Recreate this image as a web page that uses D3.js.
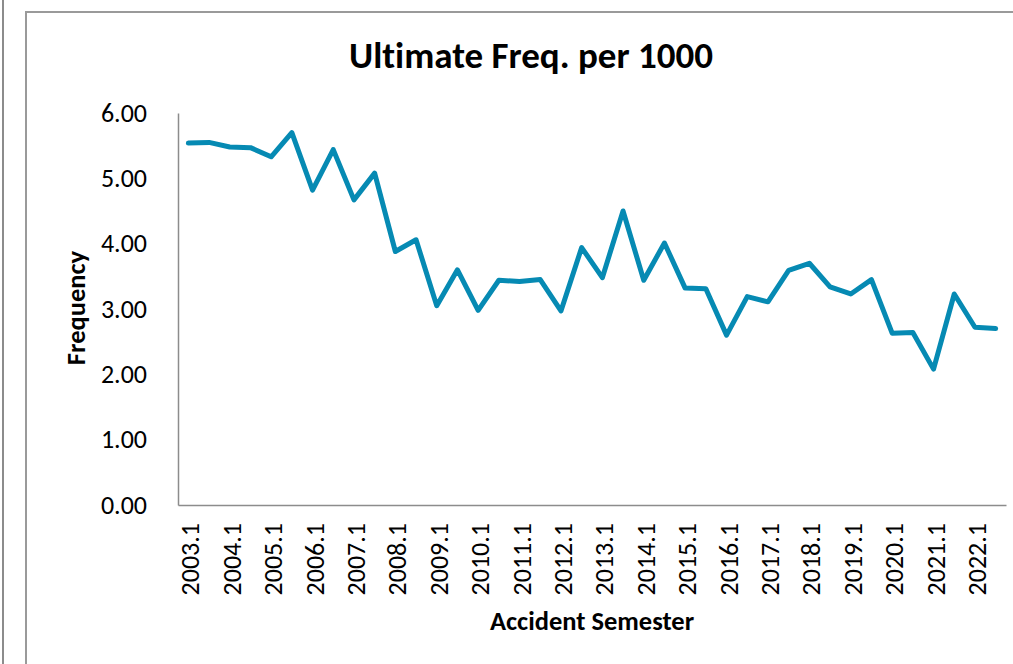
<!DOCTYPE html>
<html>
<head>
<meta charset="utf-8">
<script src="https://cdn.jsdelivr.net/npm/d3@7"></script>
<style>
  html, body { margin: 0; padding: 0; background: #ffffff; }
  svg { display: block; }
  text { font-family: Carlito, Calibri, "Open Sans", "Noto Sans", sans-serif; fill: #000; font-variant-ligatures: none; font-feature-settings: "liga" 0; }
</style>
</head>
<body>
<svg id="chart" width="1013" height="664"></svg>
<script>
// Accident semesters (two per year) and ultimate claim frequency per 1000
const years = d3.range(2003, 2023);
const semesters = years.flatMap(y => [y + ".1", y + ".2"]);
const frequency = [
  5.54, 5.55, 5.48, 5.47, 5.33, 5.70, 4.82, 5.44, 4.67, 5.08,
  3.88, 4.06, 3.05, 3.60, 2.98, 3.44, 3.42, 3.45, 2.97, 3.94,
  3.48, 4.50, 3.44, 4.01, 3.32, 3.31, 2.60, 3.19, 3.11, 3.59,
  3.70, 3.34, 3.23, 3.45, 2.63, 2.64, 2.08, 3.23, 2.72, 2.70
];
const yTicks = [0, 1, 2, 3, 4, 5, 6];

const svg = d3.select("#chart");

// outer chart frames
svg.append("line").attr("x1", 3).attr("x2", 3).attr("y1", 0).attr("y2", 664)
  .attr("stroke", "#8c8c8c").attr("stroke-width", 2);
svg.append("rect").attr("x", 26).attr("y", 12).attr("width", 1100).attr("height", 700)
  .attr("fill", "none").attr("stroke", "#9a9a9a").attr("stroke-width", 2);

const plot = { left: 178, right: 1006, top: 113, bottom: 505 };

const x = d3.scaleBand().domain(semesters).range([plot.left, plot.right]).paddingInner(0).paddingOuter(0);
const y = d3.scaleLinear().domain([0, 6]).range([plot.bottom, plot.top]);

// y axis
const yAxis = svg.append("g").attr("transform", `translate(${plot.left},0)`)
  .call(d3.axisLeft(y).tickValues(yTicks).tickFormat(d3.format(".2f")).tickSize(0).tickPadding(31));
yAxis.select(".domain").attr("stroke", "#8c8c8c").attr("stroke-width", 1.5);
yAxis.selectAll("text").style("font-size", "26px").attr("fill", "#000");

// x axis: a label for every first semester
const xAxis = svg.append("g").attr("transform", `translate(0,${plot.bottom})`)
  .call(d3.axisBottom(x).tickValues(semesters.filter(s => s.endsWith(".1"))).tickSize(0));
xAxis.select(".domain").attr("stroke", "#8c8c8c").attr("stroke-width", 1.5);
xAxis.selectAll("text")
  .style("font-size", "26px").attr("fill", "#000")
  .attr("transform", "rotate(-90)")
  .attr("text-anchor", "end")
  .attr("x", -18).attr("y", 2).attr("dy", "0.35em");

// frequency line
const line = d3.line()
  .x((d, i) => x(semesters[i]) + x.bandwidth() / 2)
  .y(d => y(d));
svg.append("path").datum(frequency)
  .attr("d", line)
  .attr("fill", "none")
  .attr("stroke", "#068ab3")
  .attr("stroke-width", 5)
  .attr("stroke-linejoin", "round")
  .attr("stroke-linecap", "round");

// titles
svg.append("text").attr("x", 531).attr("y", 68).attr("text-anchor", "middle")
  .style("font-size", "37px").style("font-weight", "bold").text("Ultimate Freq. per 1000");
svg.append("text").attr("transform", "translate(85,308) rotate(-90)").attr("text-anchor", "middle")
  .style("font-size", "26.5px").style("font-weight", "bold").text("Frequency");
svg.append("text").attr("x", 592).attr("y", 630).attr("text-anchor", "middle")
  .style("font-size", "26.5px").style("font-weight", "bold").text("Accident Semester");
</script>
</body>
</html>
